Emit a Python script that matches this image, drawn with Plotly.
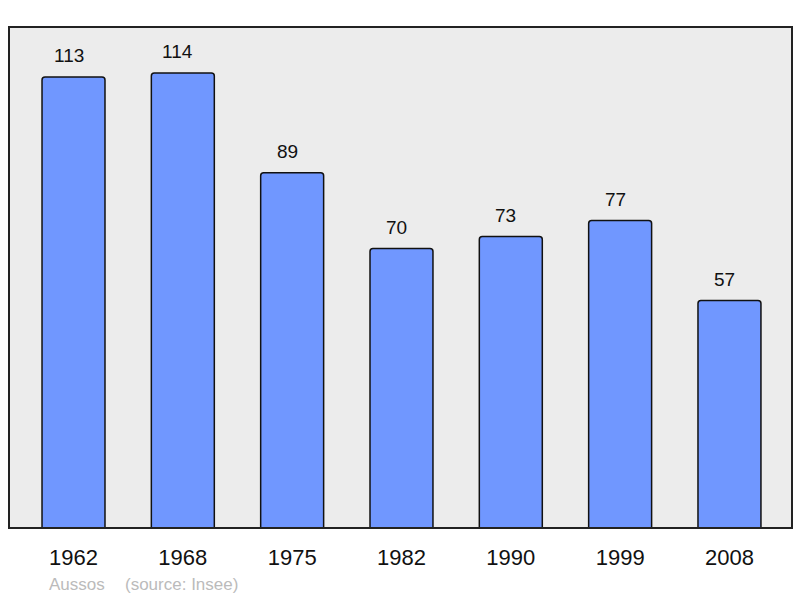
import plotly.graph_objects as go

years = ["1962", "1968", "1975", "1982", "1990", "1999", "2008"]
population = [113, 114, 89, 70, 73, 77, 57]
town = "Aussos"
source = "(source: Insee)"

FONT = "Liberation Sans, Arial, sans-serif"

fig = go.Figure()
fig.add_trace(go.Bar(
    x=years, y=population,
    width=0.576,
    marker=dict(color="#7097ff", line=dict(color="#111111", width=1.5), cornerradius=3),
    hoverinfo="skip",
))

for i, v in enumerate(population):
    fig.add_annotation(x=i, y=v, text=str(v), showarrow=False,
                       yanchor="middle", yshift=21, xshift=-5,
                       font=dict(family=FONT, size=19, color="#111111"))

cap_y = (528 - 584) / 501
fig.add_annotation(xref="paper", yref="paper", x=(47 - 9) / 783, y=cap_y,
                   xanchor="left", yanchor="middle", showarrow=False, text=town,
                   font=dict(family=FONT, size=17, color="#bbbbbb"))
fig.add_annotation(xref="paper", yref="paper", x=(123 - 9) / 783, y=cap_y,
                   xanchor="left", yanchor="middle", showarrow=False, text=source,
                   font=dict(family=FONT, size=17, color="#bbbbbb"))

fig.add_shape(type="rect", xref="paper", yref="paper", x0=0, y0=0, x1=1, y1=1,
              line=dict(color="#222222", width=2), layer="above")

fig.update_layout(
    width=800, height=598,
    margin=dict(l=9, r=8, t=27, b=70),
    paper_bgcolor="white", plot_bgcolor="#ececec",
    showlegend=False,
    xaxis=dict(type="category", range=[-0.59, 6.572], showgrid=False, zeroline=False,
               showline=False, ticks="outside", ticklen=10, tickcolor="rgba(0,0,0,0)",
               tickfont=dict(family=FONT, size=22, color="#111111")),
    yaxis=dict(range=[0, 125.5], showgrid=False, zeroline=False, showticklabels=False,
               showline=False, ticks=""),
)

fig.write_html("out.html", config={"displayModeBar": False},
               post_script="document.body.style.margin='0px';document.body.style.overflow='hidden';")
